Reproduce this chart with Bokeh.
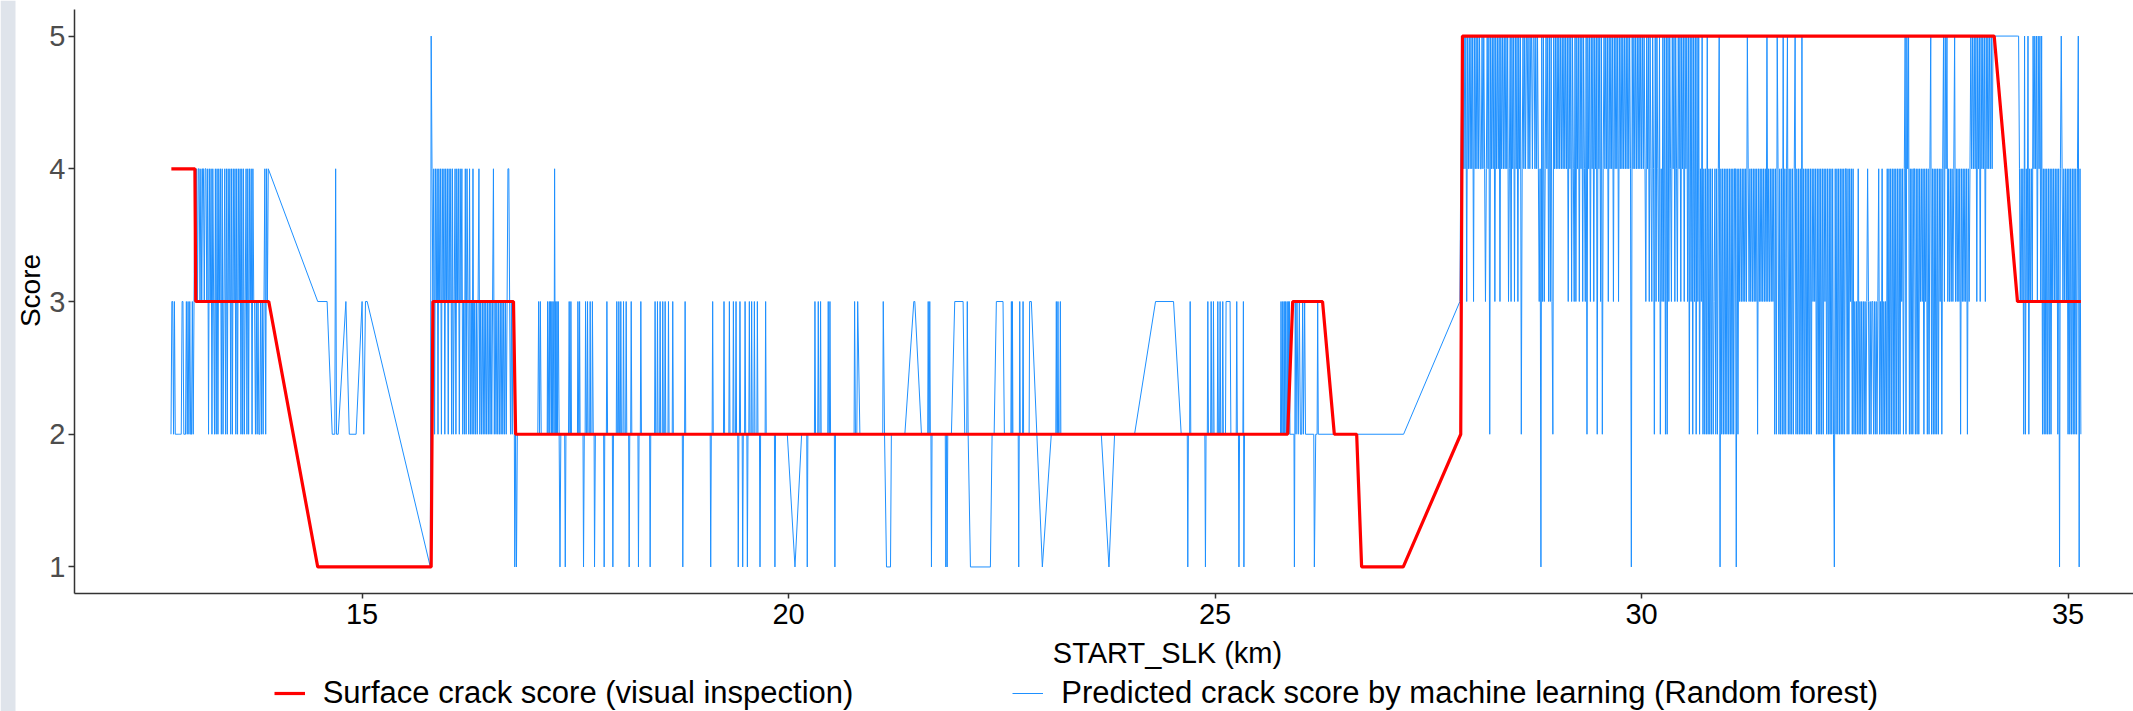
import math
from bokeh.plotting import figure
from bokeh.models import ColumnDataSource, Legend, LegendItem, Label, FixedTicker, BoxAnnotation
from bokeh.embed import file_html
from bokeh.resources import INLINE

# ---------------- data ----------------
X_TICKS = [15, 20, 25, 30, 35]
Y_TICKS = [1, 2, 3, 4, 5]
X_TITLE = "START_SLK (km)"
Y_TITLE = "Score"
LEGEND_LABELS = ["Surface crack score (visual inspection)",
                 "Predicted crack score by machine learning (Random forest)"]

# visual inspection score (red)
RED_KM = [12.764, 13.04, 13.05, 13.906, 14.48, 15.81, 15.83, 16.775, 16.80,
          25.851, 25.91, 26.26, 26.398, 26.66, 26.718, 27.206, 27.88, 27.90,
          34.134, 34.407, 35.15]
RED_SCORE = [4, 4, 3, 3, 1, 1, 3, 3, 2,
             2, 3, 3, 2, 2, 1, 1, 2, 5,
             5, 3, 3]

# predicted score (blue); dense stretches are sampled every 10 m: (start km, digit string)
SEG_STEP_KM = 0.01
BLUE_SEG_A = (12.76, "2332322222" "2223322232" "32322323"
                     "4343443434" "4344342434" "2432424243" "4242342424" "3424243424"
                     "2434242423" "4242434243" "3232322323" "2342434")
BLUE_PTS_1 = [(14.48, 3), (14.59, 3), (14.65, 2), (14.68, 2), (14.69, 4), (14.70, 2), (14.72, 2),
              (14.81, 3), (14.85, 2), (14.93, 2), (15.00, 3), (15.02, 2), (15.04, 3), (15.06, 3),
              (15.80, 1), (15.81, 5)]
BLUE_SEG_B = (15.82, "4342434243" "4243424342" "4342423424" "3424342324" "2432423242"
                     "3232342323" "2323232323" "2342323232" "3232323234" "4323233")
BLUE_PTS_2 = [
    (16.79, 1), (16.80, 2), (16.81, 1), (16.82, 2),
    (17.06, 2), (17.07, 3), (17.08, 2), (17.09, 3), (17.10, 2),
    (17.17, 2), (17.175, 3), (17.18, 2), (17.195, 3), (17.20, 2), (17.21, 3), (17.22, 2), (17.225, 3),
    (17.23, 2), (17.24, 3), (17.25, 2), (17.257, 4), (17.265, 2), (17.27, 3), (17.28, 2), (17.285, 3),
    (17.29, 2), (17.30, 3), (17.31, 2), (17.32, 1), (17.33, 2),
    (17.375, 2), (17.382, 1), (17.39, 2),
    (17.42, 2), (17.428, 3), (17.435, 2), (17.443, 2), (17.448, 3), (17.455, 2),
    (17.525, 2), (17.53, 3), (17.54, 2), (17.545, 2), (17.55, 3), (17.556, 2),
    (17.59, 2), (17.596, 1), (17.605, 2), (17.615, 2), (17.62, 3), (17.63, 2), (17.638, 2), (17.643, 3),
    (17.65, 2), (17.668, 2), (17.674, 3), (17.68, 2), (17.695, 2), (17.70, 3), (17.71, 2), (17.72, 2),
    (17.725, 1), (17.735, 2),
    (17.832, 2), (17.838, 1), (17.845, 2), (17.864, 2), (17.87, 3), (17.878, 2),
    (17.934, 2), (17.94, 1), (17.947, 2),
    (17.98, 2), (17.986, 3), (17.993, 2), (18.004, 2), (18.01, 3), (18.017, 2), (18.027, 2), (18.033, 3),
    (18.04, 2), (18.058, 2), (18.065, 3), (18.072, 2), (18.09, 2), (18.096, 3), (18.103, 2), (18.125, 2),
    (18.131, 1), (18.138, 2), (18.149, 2), (18.155, 3), (18.162, 2),
    (18.234, 2), (18.24, 1), (18.247, 2), (18.262, 2), (18.268, 3), (18.275, 2),
    (18.371, 2), (18.377, 1), (18.384, 2),
    (18.429, 2), (18.435, 3), (18.442, 2), (18.457, 2), (18.463, 3), (18.47, 2), (18.488, 2), (18.494, 3),
    (18.50, 2), (18.519, 2), (18.525, 3), (18.532, 2), (18.547, 2), (18.553, 3), (18.56, 2), (18.586, 2),
    (18.592, 3), (18.599, 2), (18.636, 2), (18.642, 3), (18.649, 2),
    (18.754, 2), (18.76, 1), (18.767, 2), (18.781, 2), (18.787, 3), (18.794, 2),
    (19.081, 2), (19.087, 1), (19.094, 2), (19.104, 2), (19.11, 3), (19.117, 2),
    (19.237, 2), (19.243, 3), (19.25, 2), (19.30, 2), (19.306, 3), (19.313, 2), (19.347, 2), (19.353, 3),
    (19.36, 2), (19.378, 2), (19.384, 3), (19.39, 2), (19.404, 2), (19.41, 1), (19.417, 2), (19.424, 2),
    (19.43, 3), (19.437, 2), (19.456, 2), (19.462, 1), (19.469, 2), (19.484, 2), (19.49, 3), (19.497, 2),
    (19.511, 2), (19.517, 1), (19.524, 2), (19.534, 2), (19.54, 3), (19.547, 2), (19.561, 2), (19.567, 3),
    (19.574, 2), (19.593, 2), (19.599, 3), (19.606, 2), (19.628, 2), (19.634, 3), (19.641, 2), (19.659, 2),
    (19.665, 1), (19.672, 2), (19.725, 2), (19.731, 3), (19.738, 2),
    (19.834, 2), (19.84, 1), (19.847, 2),
    (19.985, 2), (20.075, 1), (20.153, 2),
    (20.213, 2), (20.219, 1), (20.226, 2),
    (20.303, 2), (20.309, 3), (20.316, 2), (20.342, 2), (20.348, 3), (20.355, 2), (20.369, 2), (20.375, 3),
    (20.382, 2), (20.459, 2), (20.465, 3), (20.472, 2), (20.479, 2), (20.485, 3), (20.492, 2),
    (20.537, 2), (20.543, 1), (20.55, 2),
    (20.768, 2), (20.774, 3), (20.784, 2), (20.80, 2), (20.81, 3), (20.836, 2),
    (21.104, 2), (21.11, 3), (21.125, 2), (21.148, 1), (21.195, 1), (21.205, 2),
    (21.363, 2), (21.468, 3), (21.48, 3), (21.558, 2),
    (21.631, 2), (21.637, 3), (21.644, 2), (21.649, 2), (21.655, 3), (21.662, 2), (21.669, 2), (21.675, 1),
    (21.682, 2),
    (21.837, 2), (21.843, 1), (21.85, 2), (21.853, 2), (21.859, 1), (21.866, 2),
    (21.909, 2), (21.948, 3), (22.046, 3), (22.065, 2),
    (22.089, 2), (22.095, 3), (22.105, 2), (22.132, 1), (22.366, 1), (22.386, 2),
    (22.41, 2), (22.436, 3), (22.514, 3), (22.53, 2),
    (22.606, 2), (22.612, 3), (22.618, 2), (22.62, 2), (22.624, 3), (22.63, 2), (22.692, 2), (22.698, 1),
    (22.704, 2), (22.706, 2), (22.71, 3), (22.716, 2), (22.743, 2), (22.749, 3), (22.755, 2),
    (22.82, 2), (22.826, 3), (22.846, 3), (22.975, 1), (23.08, 2),
    (23.133, 2), (23.139, 3), (23.145, 2), (23.152, 2), (23.158, 3), (23.165, 2), (23.18, 2), (23.186, 3),
    (23.192, 2),
    (23.666, 2), (23.756, 1), (23.822, 2),
    (24.056, 2), (24.302, 3), (24.513, 3), (24.603, 2),
    (24.674, 2), (24.68, 1), (24.687, 2), (24.702, 2), (24.708, 3), (24.715, 2),
    (24.88, 2), (24.887, 1), (24.894, 2), (24.909, 2), (24.915, 3), (24.922, 2),
    (24.948, 2), (24.954, 3), (24.961, 2), (24.975, 2), (24.981, 3), (24.988, 2), (25.026, 2), (25.032, 3),
    (25.039, 2), (25.053, 2), (25.059, 3), (25.066, 2), (25.084, 2), (25.09, 3), (25.097, 2),
    (25.122, 2), (25.129, 3), (25.176, 3), (25.185, 2),
    (25.248, 2), (25.254, 3), (25.261, 2), (25.274, 2), (25.28, 1), (25.287, 2), (25.326, 2), (25.332, 3),
    (25.338, 1), (25.345, 2),
    (25.767, 2), (25.773, 3), (25.78, 2), (25.787, 2), (25.793, 3), (25.80, 2), (25.805, 2), (25.81, 3),
    (25.817, 2), (25.824, 3), (25.831, 2), (25.838, 2), (25.844, 3), (25.851, 2), (25.858, 3), (25.865, 2),
    (25.871, 3), (25.878, 2),
    (25.925, 2), (25.93, 1), (25.94, 3), (25.949, 2), (25.96, 3), (25.975, 2), (25.988, 3), (26.00, 2),
    (26.015, 2), (26.027, 3), (26.035, 2), (26.05, 3), (26.06, 2), (26.157, 2), (26.164, 1), (26.18, 2),
    (26.196, 2), (26.203, 3), (26.21, 2),
    (27.21, 2), (27.87, 3), (27.88, 4),
]
BLUE_SEGS_C = [
    (27.90, "5454535454" "5453545454" "5445454345" "4525454535" "4545354545"),
    (28.40, "4545345354" "5354535452" "4545455454" "5545545454" "3415353454"),
    (28.90, "5353532545" "4545454545" "4545354535" "4353545354" "5354352545"),
    (29.40, "3545354525" "4535245454" "5354545354" "5453545454" "5454545415"),
    (29.90, "4545454545" "4545435453" "5435425354" "3524353525" "2535435453"),
    (30.40, "5435453545" "3545352535" "2535253524" "3524242524" "2424234242"),
    (30.90, "4514242424" "2424242424" "4142434343" "4343543434" "3434342434"),
    (31.40, "3434343534" "3434342425" "4242425242" "4524242424" "5242424252"),
    (31.90, "4242424242" "4343424242" "4242434242" "4242421424" "2424242424"),
    (32.40, "4242434242" "3232423232" "3232343232" "3323232342" "3242323242"),
    (32.90, "4242424242" "4242434245" "2545242424" "4242424343" "4243424245"),
    (33.40, "2424242424" "3424535453" "4343434534" "3434243434" "3424345454"),
    (33.90, "5453545354" "5453545454" "545"),
]
BLUE_PTS_3 = [(34.41, 5)]
BLUE_SEG_D = (34.42, "5434342524" "3524343545" "4535453524" "2424242424" "3434342414"
                     "5434343424" "2424242424" "5142")


def seg_points(seg):
    start, digits = seg
    return [(round(start + i * SEG_STEP_KM, 4), int(ch)) for i, ch in enumerate(digits)]


blue = []
blue += seg_points(BLUE_SEG_A)
blue += BLUE_PTS_1
blue += seg_points(BLUE_SEG_B)
blue += BLUE_PTS_2
for s in BLUE_SEGS_C:
    blue += seg_points(s)
blue += BLUE_PTS_3
blue += seg_points(BLUE_SEG_D)

blue_src = ColumnDataSource(dict(km=[b[0] for b in blue], score=[b[1] for b in blue]))
red_src = ColumnDataSource(dict(km=RED_KM, score=RED_SCORE))

# ---------------- figure ----------------
FONT = "Liberation Sans"
X_LOW, X_HIGH = 11.628, 35.767    # visible km axis
Y_LOW, Y_HIGH = 0.8, 5.2          # visible score axis
# The frame fills the whole page; the axes are pinned at the panel edges with fixed_location
# and bounds, so the titles and the legend outside the panel can be drawn inside the frame.
p = figure(width=2133, height=711, x_range=(10.761, X_HIGH), y_range=(-0.089, 5.268),
           output_backend="svg", toolbar_location=None, title=None,
           min_border_left=0, min_border_right=0, min_border_top=0, min_border_bottom=0)
p.background_fill_color = "white"
p.border_fill_color = "white"
p.outline_line_color = None
p.xgrid.visible = False
p.ygrid.visible = False

# pale strip at the far left of the reference image
p.add_layout(BoxAnnotation(left=0, right=15, left_units="screen", right_units="screen",
                           fill_color="#dfe4eb", fill_alpha=1.0, line_color=None, level="underlay"))

r_blue = p.line("km", "score", source=blue_src, line_color="#1E90FF", line_width=1.0)
r_red = p.line("km", "score", source=red_src, line_color="#FF0000", line_width=3.2)

for ax in (p.xaxis[0], p.yaxis[0]):
    ax.axis_line_color = "#333333"
    ax.axis_line_width = 1.5
    ax.major_tick_line_color = "#333333"
    ax.major_tick_line_width = 1.5
    ax.major_tick_in = 0
    ax.minor_tick_in = 0
    ax.minor_tick_out = 0
    ax.major_label_text_font = FONT
    ax.major_label_text_font_size = "29px"

p.xaxis.ticker = FixedTicker(ticks=X_TICKS)
p.yaxis.ticker = FixedTicker(ticks=Y_TICKS)
p.xaxis.fixed_location = Y_LOW
p.xaxis.bounds = (X_LOW, X_HIGH)
p.yaxis.fixed_location = X_LOW
p.yaxis.bounds = (Y_LOW, Y_HIGH)
p.xaxis.major_tick_out = 5
p.yaxis.major_tick_out = 6
p.xaxis.major_label_standoff = 5
p.yaxis.major_label_standoff = 3
p.xaxis.major_label_text_color = "#000000"
p.yaxis.major_label_text_color = "#4d4d4d"

# axis titles (screen units measured from the frame's left and bottom edges)
p.add_layout(Label(x=29.5, y=421, x_units="screen", y_units="screen", text=Y_TITLE,
                   angle=math.pi / 2, text_font=FONT, text_font_size="28px", text_color="black",
                   text_align="center", text_baseline="middle"))
p.add_layout(Label(x=1167, y=59, x_units="screen", y_units="screen", text=X_TITLE,
                   text_font=FONT, text_font_size="29px", text_color="black",
                   text_align="center", text_baseline="middle"))

legend = Legend(items=[LegendItem(label=LEGEND_LABELS[0], renderers=[r_red]),
                       LegendItem(label=LEGEND_LABELS[1], renderers=[r_blue])],
                orientation="horizontal", location=(273.7, 0.5),
                glyph_width=31, glyph_height=34, label_height=34, label_standoff=18, spacing=159,
                padding=0, margin=0, border_line_color=None, background_fill_alpha=0,
                label_text_font=FONT, label_text_font_size="31px", label_text_color="black")
p.add_layout(legend, "center")

open("out.html", "w").write(file_html(p, INLINE))
